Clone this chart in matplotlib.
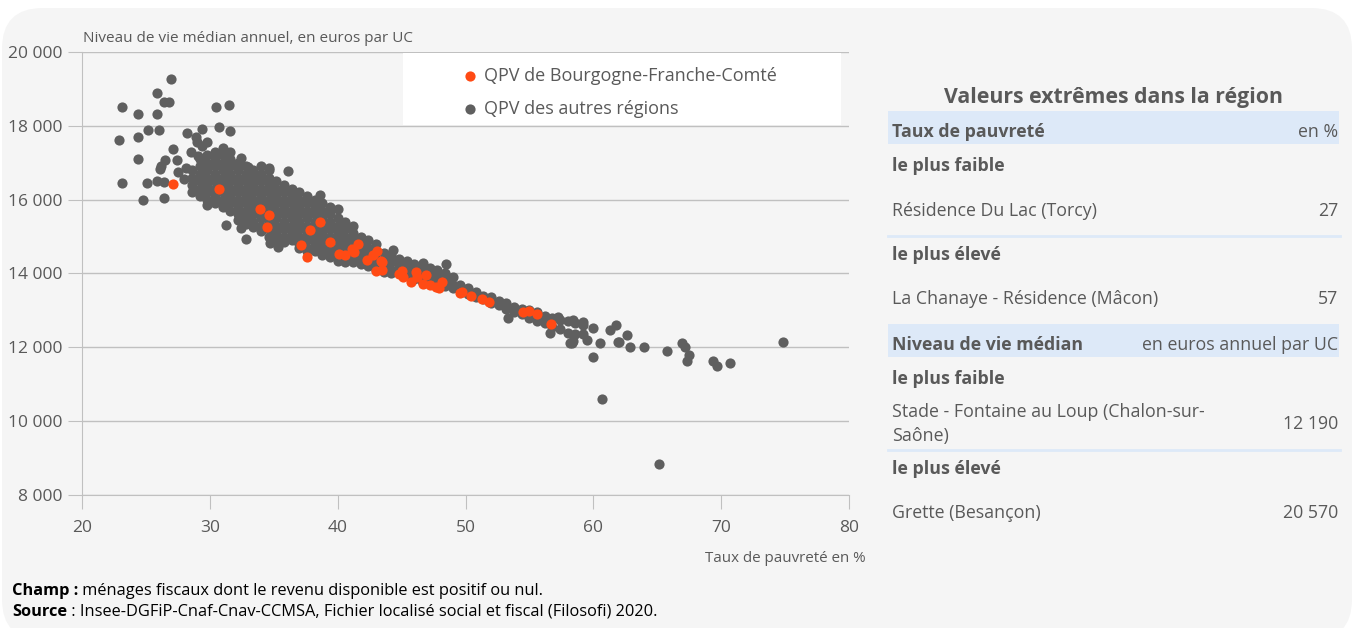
import numpy as np
import matplotlib
matplotlib.use("Agg")
import matplotlib.pyplot as plt
from matplotlib.patches import FancyBboxPatch, Rectangle

plt.rcParams['font.family'] = ['Open Sans', 'DejaVu Sans']

# QPV de Bourgogne-Franche-Comte (taux de pauvrete %, niveau de vie median)
bfc_x = [27.1, 30.7, 33.9, 34.6, 34.5, 37.8, 38.6, 39.4, 37.1, 37.6, 40.1, 40.6,
         41.6, 41.1, 41.3, 43.1, 42.8, 42.3, 43.4, 43.0, 43.5, 43.5, 45.0, 44.8,
         45.1, 46.1, 46.2, 45.7, 46.9, 46.7, 47.2, 47.7, 48.2, 47.9, 49.6, 49.7,
         50.4, 51.3, 51.8, 54.5, 55.0, 55.6, 56.7]
bfc_y = [16420, 16280, 15750, 15590, 15250, 15190, 15400, 14850, 14770, 14460, 14520, 14500,
         14810, 14660, 14570, 14620, 14500, 14360, 14340, 14070, 14320, 14090, 14070, 13990,
         13910, 14050, 13900, 13760, 13960, 13720, 13690, 13640, 13780, 13600, 13480, 13490,
         13400, 13310, 13240, 12970, 12990, 12890, 12620]

# QPV des autres regions : points isoles
out_x = [27.0, 25.9, 26.4, 26.8, 23.1, 24.4, 25.9, 30.5, 31.5, 25.2, 26.0, 29.4,
         30.7, 31.6, 22.9, 24.4, 28.2, 28.9, 29.0, 29.4, 29.8, 27.1, 24.4, 28.5,
         29.1, 27.4, 26.5, 26.2, 26.1, 27.5, 28.1, 23.1, 25.1, 25.9, 26.4, 28.0,
         24.8, 26.4, 32.4, 34.6, 36.1, 33.0, 33.4, 38.6, 40.0, 31.3, 32.8, 32.4,
         34.7, 35.3, 44.3, 46.7, 48.5, 48.9, 53.3, 56.6, 58.3, 59.5, 60.5, 61.9,
         57.2, 58.4, 59.2, 60.0, 61.3, 61.8, 62.6, 58.2, 58.4, 60.0, 60.7, 62.0,
         62.9, 64.0, 65.8, 66.9, 67.2, 67.5, 67.3, 69.4, 69.7, 70.7, 74.8, 65.1]
out_y = [19280, 18900, 18640, 18640, 18520, 18330, 18330, 18520, 18560, 17880, 17890, 17920,
         17960, 17850, 17620, 17690, 17800, 17690, 17570, 17450, 17570, 17360, 17090, 17300,
         17180, 17070, 17070, 16910, 16820, 16760, 16850, 16440, 16460, 16510, 16480, 16560,
         15990, 16050, 17120, 16850, 16780, 16880, 16710, 16130, 15760, 15310, 14930, 15230,
         14830, 14720, 14640, 14280, 14260, 13880, 12790, 12390, 12120, 12200, 12120, 12140,
         12820, 12740, 12690, 12520, 12470, 12600, 12330, 12120, 12170, 11740, 10600, 12140,
         12010, 12010, 11900, 12120, 12010, 11790, 11630, 11630, 11490, 11580, 12140, 8840]

# QPV des autres regions : coeur du nuage, colonne par colonne
band_x = [28.6, 29.2, 29.8, 30.4, 31.0, 31.6, 32.2, 32.8, 33.4, 34.0, 34.6, 35.2,
          35.8, 36.4, 37.0, 37.6, 38.2, 38.8, 39.4, 40.0, 40.6, 41.2, 41.8, 42.4,
          43.0, 43.6, 44.2, 44.8, 45.4, 46.0, 46.6, 47.2, 47.8, 48.4, 49.0, 49.6,
          50.2, 50.8, 51.4, 52.0, 52.6, 53.2, 53.8, 54.4, 55.0, 55.6, 56.2, 56.8,
          57.4, 58.0, 58.6, 59.2]
band_y = [
    [16800, 16600, 16400, 16200],
    [17100, 16900, 16700, 16500, 16300, 16100],
    [17200, 17000, 16800, 16600, 16400, 16200, 16000, 15850],
    [17300, 17100, 16900, 16700, 16500, 16300, 16100, 15900],
    [17400, 17200, 17000, 16800, 16600, 16400, 16200, 16000, 15800],
    [17300, 17100, 16900, 16700, 16500, 16300, 16100, 15900, 15700],
    [17000, 16800, 16600, 16400, 16200, 16000, 15800, 15600, 15450],
    [16900, 16700, 16500, 16300, 16100, 15900, 15700, 15500, 15350],
    [16800, 16600, 16400, 16200, 16000, 15800, 15600, 15400, 15250],
    [16900, 16700, 16500, 16300, 16100, 15900, 15700, 15500, 15300, 15150],
    [16800, 16600, 16400, 16200, 16000, 15800, 15600, 15400, 15200, 15000],
    [16500, 16300, 16100, 15900, 15700, 15500, 15300, 15100, 14900],
    [16400, 16200, 16000, 15800, 15600, 15400, 15200, 15000, 14850],
    [16300, 16100, 15900, 15700, 15500, 15300, 15100, 14900],
    [16200, 16000, 15800, 15600, 15400, 15200, 15000, 14800, 14700],
    [16100, 15900, 15700, 15500, 15300, 15100, 14900, 14700, 14600],
    [16000, 15800, 15600, 15400, 15200, 15000, 14800, 14600],
    [15900, 15700, 15500, 15300, 15100, 14900, 14700, 14500],
    [15800, 15600, 15400, 15200, 15000, 14800, 14600, 14450],
    [15500, 15300, 15100, 14900, 14700, 14500, 14350],
    [15400, 15200, 15000, 14800, 14600, 14400, 14300],
    [15300, 15100, 14900, 14700, 14500, 14300],
    [15000, 14800, 14600, 14400, 14250],
    [14900, 14700, 14500, 14300, 14200],
    [14800, 14600, 14400, 14200, 14100],
    [14550, 14350, 14150, 14050],
    [14500, 14300, 14100, 14000],
    [14400, 14200, 14000],
    [14350, 14150, 13950],
    [14250, 14050, 13850],
    [14200, 14000, 13800],
    [14150, 13950, 13750],
    [14100, 13900, 13700],
    [14000, 13800, 13650],
    [13900, 13700, 13600],
    [13700, 13550],
    [13600, 13450],
    [13500, 13350],
    [13400, 13300],
    [13350, 13200],
    [13250, 13150],
    [13200, 13050],
    [13100, 12950],
    [13050, 12900],
    [13000, 12800],
    [12950, 12700],
    [12850, 12650],
    [12800, 12550],
    [12750, 12500],
    [12700, 12400],
    [12650, 12350],
    [12600, 12350],
]

x_ticks = [20, 30, 40, 50, 60, 70, 80]
y_ticks = [8000, 10000, 12000, 14000, 16000, 18000, 20000]
y_tick_labels = ["8 000", "10 000", "12 000", "14 000", "16 000", "18 000", "20 000"]

# tableau des valeurs extremes
table_title = "Valeurs extrêmes dans la région"
pauv_head = ("Taux de pauvreté", "en %")
pauv_low = ("Résidence Du Lac (Torcy)", "27")
pauv_high = ("La Chanaye - Résidence (Mâcon)", "57")
nv_head = ("Niveau de vie médian", "en euros annuel par UC")
nv_low = ("Stade - Fontaine au Loup (Chalon-sur-\nSaône)", "12 190")
nv_high = ("Grette (Besançon)", "20 570")

ORANGE = "#ff4a14"
GREY = "#5f5f5f"
TXT = "#595959"
LINE = "#c0c0c0"
BLUE = "#dde9f8"
BG = "#f5f5f5"
FS = 12.8

W, H = 1357, 628
def fx(px):
    return px / W
def fy(py):
    return 1 - py / H

fig = plt.figure(figsize=(W / 100, H / 100), dpi=100, facecolor="white")
card = FancyBboxPatch((fx(2), fy(640)), fx(1352) - fx(2), fy(8) - fy(640),
                      boxstyle="round,pad=0,rounding_size=0.03", transform=fig.transFigure,
                      facecolor=BG, edgecolor="none", mutation_aspect=W / H, zorder=-10)
fig.patches.append(card)

ax = fig.add_axes([fx(82), fy(495), fx(849) - fx(82), fy(52) - fy(495)])
ax.set_facecolor(BG)

gx = np.concatenate([out_x] + [[x] * len(ys) for x, ys in zip(band_x, band_y)])
gy = np.concatenate([out_y] + band_y)
ax.scatter(gx, gy, s=54, color=GREY, linewidths=0, zorder=3, label="QPV des autres régions")
ax.scatter(bfc_x, bfc_y, s=54, color=ORANGE, linewidths=0, zorder=4,
           label="QPV de Bourgogne-Franche-Comté")

ax.set_xlim(20, 80)
ax.set_ylim(8000, 20000)
ax.set_xticks(x_ticks)
ax.set_yticks(y_ticks)
ax.set_yticklabels(y_tick_labels)
ax.grid(axis="y", color=LINE, lw=1, zorder=0)
ax.set_axisbelow(True)
for s in ["top", "right"]:
    ax.spines[s].set_visible(False)
for s in ["left", "bottom"]:
    ax.spines[s].set_color(LINE)
ax.tick_params(axis="both", length=10, color=LINE, labelcolor=TXT, labelsize=12.5)
ax.tick_params(axis="x", pad=8)
ax.tick_params(axis="y", pad=4)

# cadre blanc de la legende
ax.add_patch(Rectangle((0.419, 0.835), 0.57, 0.163, transform=ax.transAxes,
                       facecolor="white", edgecolor="none", zorder=2))
h, l = ax.get_legend_handles_labels()
ax.legend(h[::-1], l[::-1], loc="upper left", bbox_to_anchor=(0.497, 0.966),
          frameon=False, fontsize=13, labelcolor=TXT, handlelength=0.8,
          handletextpad=0.35, labelspacing=0.8, borderpad=0, borderaxespad=0)

fig.text(fx(83), fy(39), "Niveau de vie médian annuel, en euros par UC", fontsize=11,
         color=TXT, va="center", ha="left")
fig.text(fx(866), fy(559), "Taux de pauvreté en %", fontsize=10.9, color=TXT,
         va="center", ha="right")

# panneau de droite
fig.text(fx(1113), fy(98), table_title, fontsize=15.3, weight="bold", color=TXT,
         ha="center", va="center")
for top, bot in [(111, 144), (324, 357)]:
    fig.patches.append(Rectangle((fx(888), fy(bot)), fx(1339) - fx(888), fy(top) - fy(bot),
                                 transform=fig.transFigure, facecolor=BLUE, edgecolor="none",
                                 zorder=-5))
for yl in [236, 450]:
    fig.lines.append(plt.Line2D([fx(888), fx(1340)], [fy(yl), fy(yl)],
                                transform=fig.transFigure, color=BLUE, lw=2))

def row(py, left, right, bold=False):
    fw = "bold" if bold else "normal"
    fig.text(fx(892), fy(py), left, fontsize=FS, color=TXT, weight=fw,
             ha="left", va="center", linespacing=1.45)
    if right:
        fig.text(fx(1338), fy(py), right, fontsize=FS, color=TXT,
                 ha="right", va="center")

row(132, pauv_head[0], pauv_head[1], bold=True)
row(166, "le plus faible", None, bold=True)
row(211, *pauv_low)
row(255, "le plus élevé", None, bold=True)
row(299, *pauv_high)
row(345, nv_head[0], nv_head[1], bold=True)
row(379, "le plus faible", None, bold=True)
row(424, *nv_low)
row(469, "le plus élevé", None, bold=True)
row(513, *nv_high)

# notes en bas
renderer = fig.canvas.get_renderer()
for py, head, rest in [(591, "Champ :", " ménages fiscaux dont le revenu disponible est positif ou nul."),
                       (612, "Source", " : Insee-DGFiP-Cnaf-Cnav-CCMSA, Fichier localisé social et fiscal (Filosofi) 2020.")]:
    t = fig.text(fx(12), fy(py), head, fontsize=11.8, weight="bold", color="black",
                 ha="left", va="center")
    bb = t.get_window_extent(renderer)
    fig.text(bb.x1 / W, fy(py), rest, fontsize=11.8, color="black", ha="left", va="center")

fig.savefig("out.png", dpi=100, facecolor="white")
